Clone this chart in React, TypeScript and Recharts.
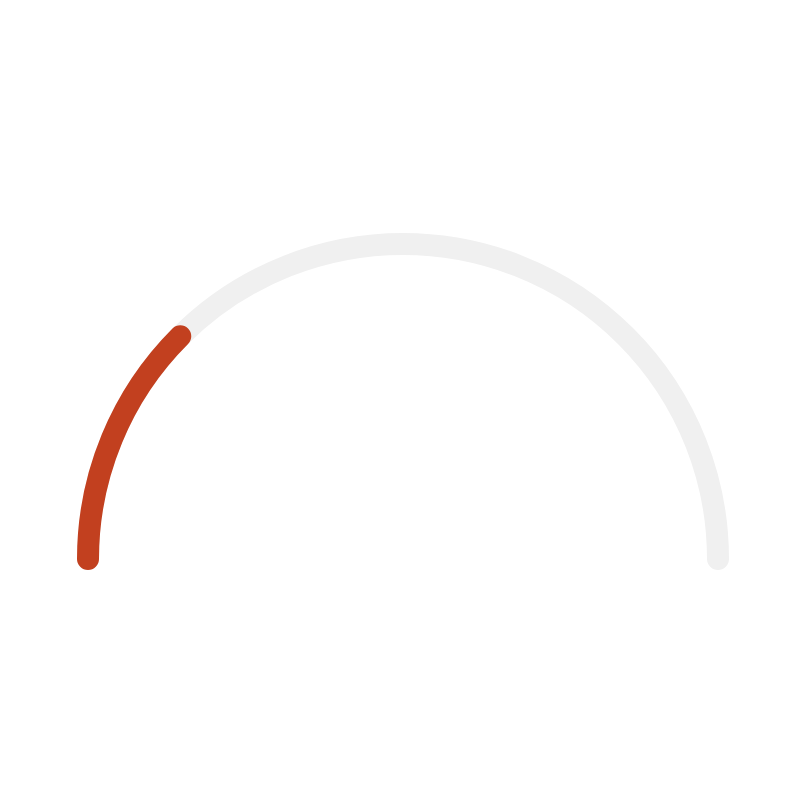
import React from 'react';
import { RadialBarChart, RadialBar, PolarAngleAxis } from 'recharts';

const gaugeNames = ['score'];
const gaugeValues = [25];
const gaugeMax = 100;

const data = gaugeNames.map((name, i) => ({ name, value: gaugeValues[i], track: gaugeMax }));

const RED = '#c2401f';
const TRACK = '#f0f0f0';

function arcPath(cx: number, cy: number, r: number, a1: number, a2: number) {
  const rad = Math.PI / 180;
  const x1 = cx + r * Math.cos(a1 * rad);
  const y1 = cy - r * Math.sin(a1 * rad);
  const x2 = cx + r * Math.cos(a2 * rad);
  const y2 = cy - r * Math.sin(a2 * rad);
  const large = Math.abs(a1 - a2) > 180 ? 1 : 0;
  const sweep = a1 > a2 ? 1 : 0;
  return `M ${x1} ${y1} A ${r} ${r} 0 ${large} ${sweep} ${x2} ${y2}`;
}

const makeArc = (color: string) => (props: any) => {
  const { cx, cy, innerRadius, outerRadius, startAngle, endAngle } = props;
  const r = (innerRadius + outerRadius) / 2;
  const w = outerRadius - innerRadius;
  if (startAngle === endAngle) return <g />;
  return (
    <path
      d={arcPath(cx, cy, r, startAngle, endAngle)}
      fill="none"
      stroke={color}
      strokeWidth={w}
      strokeLinecap="round"
    />
  );
};

function Gauge({ dataKey, color }: { dataKey: string; color: string }) {
  return (
    <RadialBarChart
      width={800}
      height={800}
      cx={395}
      cy={551}
      innerRadius={304}
      outerRadius={326}
      startAngle={180}
      endAngle={0}
      barCategoryGap={0}
      data={data}
      margin={{ top: 0, right: 0, bottom: 0, left: 0 }}
    >
      <PolarAngleAxis type="number" domain={[0, gaugeMax]} tick={false} axisLine={false} />
      <RadialBar dataKey={dataKey} shape={makeArc(color)} isAnimationActive={false} />
    </RadialBarChart>
  );
}

export default function App() {
  return (
    <div style={{ position: 'relative', width: 800, height: 800 }}>
      <div style={{ position: 'absolute', left: 0, top: 0 }}>
        <Gauge dataKey="track" color={TRACK} />
      </div>
      <div style={{ position: 'absolute', left: 0, top: 0 }}>
        <Gauge dataKey="value" color={RED} />
      </div>
    </div>
  );
}
